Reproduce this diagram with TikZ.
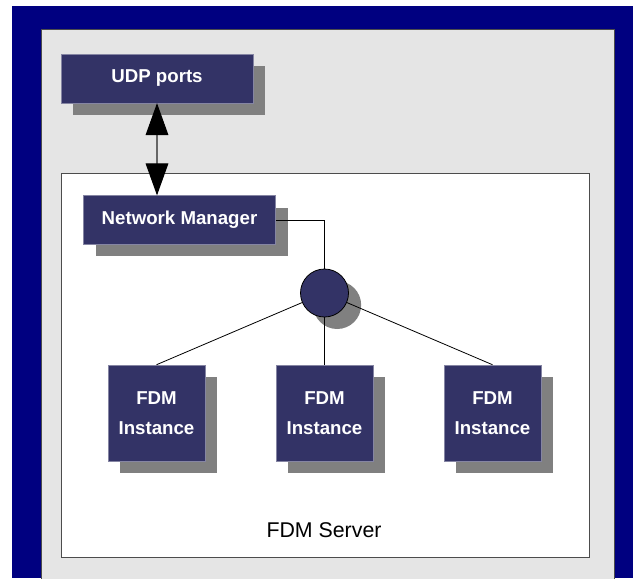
\documentclass[tikz,border=0pt]{standalone}
\usepackage{fontspec}
\setmainfont{Liberation Sans}
\usetikzlibrary{arrows.meta, shadows}

\definecolor{frameblue}{RGB}{0,0,128}
\definecolor{panelgray}{RGB}{229,229,229}
\definecolor{boxblue}{RGB}{51,51,102}
\definecolor{shadowgray}{RGB}{128,128,128}

\begin{document}
\begin{tikzpicture}[
		x=0.75pt, y=-0.75pt,
		line width=0.6pt,
		every node/.style={inner sep=0pt, text=white, font=\fontsize{14}{22.5}\selectfont\bfseries},
		block/.style={fill=boxblue, draw=boxblue!60!white, line width=0.4pt, align=center,
			drop shadow={shadow xshift=9pt, shadow yshift=-9pt, fill=shadowgray, opacity=1}},
		wide block/.style={block, minimum width=144pt, minimum height=36.5pt},
		instance/.style={block, minimum width=72.75pt, minimum height=72pt},
		hub/.style={circle, fill=boxblue, draw=black, line width=0.6pt, minimum size=36pt,
			drop shadow={shadow xshift=9.5pt, shadow yshift=-9pt, fill=shadowgray, opacity=1}},
		link/.style={draw=black, line width=0.6pt},
		server label/.style={text=black, font=\fontsize{16}{19}\selectfont}
		]
	
	\useasboundingbox (0, 0) rectangle (634, 578);
	
	% Frame and panels
	\fill[frameblue] (12, 6) rectangle (633, 578);
	\filldraw[fill=panelgray, draw=black!70, line width=0.5pt] (41, 29) rectangle (614, 582);
	\filldraw[fill=white, draw=black!70, line width=0.6pt] (61, 173) rectangle (589, 557);
	\node[server label] (server) at (324, 530) {FDM Server};
	
	% Ports and manager
	\node[wide block] (udp) at (157, 78.5) {UDP ports};
	\node[wide block] (manager) at (179.5, 220) {Network Manager};
	\draw[draw=black!60, line width=0.8pt, {Triangle[length=24pt, width=17pt, color=black]}-{Triangle[length=24pt, width=17pt, color=black]}]
		(udp.south) -- (udp.south |- manager.north);
	
	% Hub
	\node[hub] (hub) at (324.5, 293) {};
	\draw[link] (manager.east) -| (hub.north);
	
	% Instances
	\foreach \i/\x in {1/156.5, 2/324.5, 3/492.5}{
		\node[instance] (fdm\i) at (\x, 413) {FDM\\Instance};
		\draw[link] (hub) -- (fdm\i.north);
	}
	
\end{tikzpicture}
\end{document}
